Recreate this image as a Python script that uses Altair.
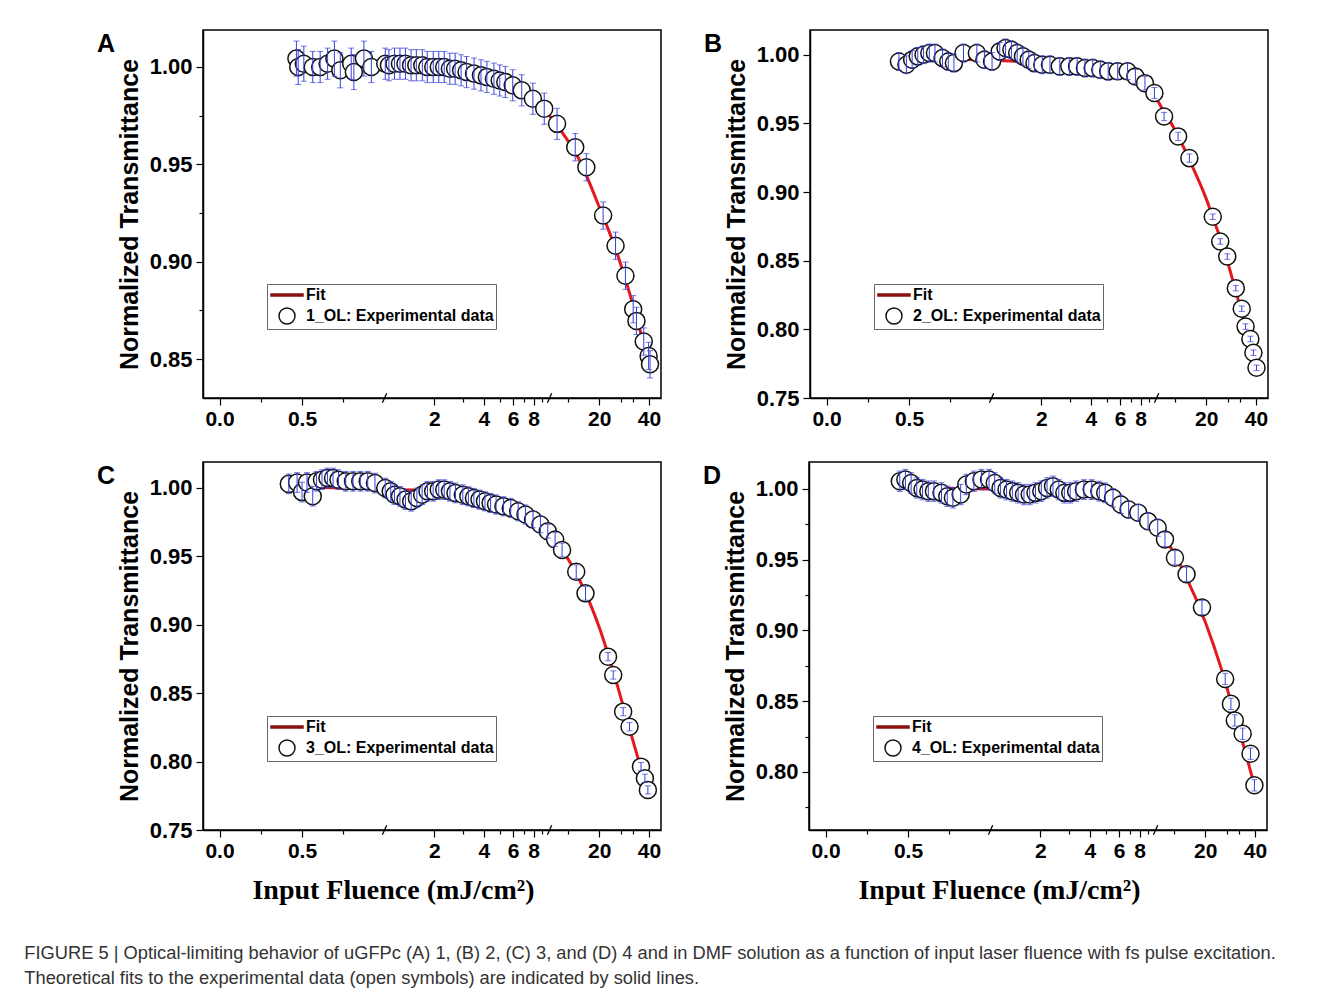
import math
import altair as alt
import pandas as pd

# ---------------- data ----------------
# Panel A (1_OL)
A_F = [0.466, 0.477, 0.511, 0.565, 0.61, 0.655, 0.696, 0.732, 0.798, 0.814,
       0.875, 0.92, 1.01, 1.063, 1.149, 1.24, 1.338, 1.448, 1.558, 1.694,
       1.815, 1.973, 2.131, 2.299, 2.488, 2.677, 2.91, 3.14, 3.485, 3.84,
       4.17, 4.6, 4.99, 5.39, 5.98, 6.78, 7.92, 9.28, 11.1, 14.3,
       16.7, 21.1, 25.1, 28.8, 32.1, 33.6, 37.2, 39.8, 40.6]
A_V = [1.0043, 1.0, 1.0017, 1.0, 1.0, 1.0017, 1.0043, 0.9983, 1.0017, 0.9974,
       1.0043, 1.0, 1.0017, 1.0009, 1.0017, 1.0017, 1.0017, 1.0009, 1.0009, 1.0009,
       1.0, 1.0, 1.0, 1.0, 0.9991, 0.9991, 0.9983, 0.9974, 0.9966, 0.9957,
       0.9949, 0.994, 0.9931, 0.9923, 0.9906, 0.988, 0.9837, 0.9786, 0.9708, 0.9588,
       0.9485, 0.9237, 0.9082, 0.8928, 0.8756, 0.8696, 0.859, 0.8516, 0.8473]
A_E = [0.009, 0.009, 0.009, 0.008, 0.008, 0.008, 0.009, 0.009, 0.008, 0.009,
       0.009, 0.008, 0.008, 0.008, 0.008, 0.008, 0.008, 0.008, 0.008, 0.008,
       0.008, 0.008, 0.008, 0.008, 0.008, 0.008, 0.008, 0.008, 0.008, 0.008,
       0.008, 0.008, 0.008, 0.008, 0.008, 0.008, 0.008, 0.008, 0.008, 0.007,
       0.007, 0.007, 0.007, 0.007, 0.007, 0.007, 0.007, 0.007, 0.007]
A_FIT_F = [0.45, 1, 2, 3, 4, 5, 6, 7, 8, 10, 12, 15, 20, 25, 30, 35, 40]
A_FIT_V = [1.0005, 1.0005, 0.9995, 0.998, 0.9955, 0.993, 0.990, 0.987, 0.983,
           0.975, 0.966, 0.953, 0.928, 0.907, 0.886, 0.866, 0.848]

# Panel B (2_OL)
B_F = [0.439, 0.484, 0.519, 0.553, 0.588, 0.623, 0.657, 0.703, 0.738, 0.772,
       0.830, 0.911, 0.957, 1.007, 1.121, 1.215, 1.319, 1.43, 1.55, 1.68,
       1.82, 2.03, 2.26, 2.59, 2.96, 3.3, 3.68, 4.1, 4.56, 5.09,
       5.81, 6.67, 7.44, 8.5, 9.7, 11.1, 13.5, 15.8, 21.9, 24.3,
       26.8, 30.2, 32.8, 34.6, 37.0, 38.6, 40.3]
B_V = [0.9951, 0.9927, 0.9964, 0.9988, 1.0, 1.0012, 1.0012, 0.9976, 0.9951, 0.9939,
       1.0012, 1.0012, 0.9964, 0.9951, 1.0024, 1.0049, 1.0036, 1.0012, 0.9988, 0.9964,
       0.9939, 0.9927, 0.9927, 0.9915, 0.9915, 0.9915, 0.9903, 0.9903, 0.9891, 0.9879,
       0.9879, 0.9879, 0.9842, 0.9793, 0.9721, 0.955, 0.9405, 0.9247, 0.882, 0.864,
       0.853, 0.830, 0.815, 0.802, 0.793, 0.783, 0.772]
B_E = [0.0065, 0.0065, 0.0065, 0.0065, 0.0065, 0.0065, 0.0065, 0.0065, 0.0065, 0.0065,
       0.0065, 0.0065, 0.0065, 0.0065, 0.0065, 0.0065, 0.0065, 0.0065, 0.0065, 0.0065,
       0.0065, 0.0065, 0.0065, 0.0065, 0.0065, 0.0065, 0.0065, 0.0065, 0.0065, 0.0065,
       0.006, 0.006, 0.005, 0.005, 0.004, 0.003, 0.003, 0.003, 0.002, 0.002,
       0.002, 0.002, 0.002, 0.002, 0.002, 0.002, 0.002]
B_FIT_F = [0.44, 1, 2, 4, 6, 8, 9, 10, 11, 12, 14, 16, 20, 22, 25, 30, 35, 40]
B_FIT_V = [0.997, 0.996, 0.994, 0.991, 0.988, 0.981, 0.976, 0.968, 0.959, 0.952,
           0.937, 0.922, 0.895, 0.881, 0.862, 0.829, 0.800, 0.774]

# Panel C (3_OL)
C_F = [0.42, 0.47, 0.50, 0.53, 0.565, 0.588, 0.621, 0.654, 0.688, 0.721,
       0.765, 0.809, 0.853, 0.898, 0.942, 1.01, 1.09, 1.149, 1.24, 1.34,
       1.45, 1.57, 1.69, 1.82, 1.97, 2.13, 2.30, 2.49, 2.69, 2.98,
       3.22, 3.48, 3.76, 4.06, 4.39, 4.74, 5.26, 5.82, 6.45, 7.14,
       7.94, 8.8, 9.75, 10.8, 11.9, 14.5, 16.5, 22.6, 24.3, 27.9,
       30.5, 35.8, 37.8, 39.4]
C_V = [1.003, 1.004, 0.997, 1.004, 0.994, 1.0049, 1.0061, 1.0073, 1.0073, 1.0061,
       1.0049, 1.0049, 1.0049, 1.0049, 1.0036, 1.0, 0.9976, 0.9951, 0.9939, 0.9915,
       0.9903, 0.9927, 0.9951, 0.9976, 0.9976, 0.9988, 0.9988, 0.9976, 0.9964, 0.9951,
       0.9939, 0.9927, 0.9915, 0.9903, 0.9891, 0.9879, 0.9866, 0.9854, 0.983, 0.9806,
       0.9769, 0.9733, 0.9684, 0.9624, 0.9547, 0.9388, 0.923, 0.8767, 0.8633, 0.8365,
       0.8255, 0.7963, 0.7878, 0.7793]
C_E = [0.0072, 0.0072, 0.0072, 0.0072, 0.0072, 0.0072, 0.0072, 0.0072, 0.0072, 0.0072,
       0.0072, 0.0072, 0.0072, 0.0072, 0.0072, 0.0072, 0.0072, 0.0072, 0.0072, 0.0072,
       0.0072, 0.0072, 0.0072, 0.0072, 0.0072, 0.0072, 0.0072, 0.0072, 0.0072, 0.0072,
       0.007, 0.007, 0.007, 0.007, 0.007, 0.007, 0.007, 0.007, 0.007, 0.007,
       0.006, 0.006, 0.005, 0.005, 0.005, 0.005, 0.005, 0.003, 0.003, 0.003,
       0.003, 0.003, 0.003, 0.003]
C_FIT_F = [0.42, 1, 2, 4, 6, 8, 10, 12, 15, 20, 25, 30, 35, 40]
C_FIT_V = [1.001, 0.999, 0.998, 0.990, 0.983, 0.975, 0.965, 0.954, 0.934,
           0.898, 0.861, 0.827, 0.799, 0.776]

# Panel D (4_OL)
D_F = [0.45, 0.484, 0.519, 0.553, 0.588, 0.623, 0.657, 0.703, 0.738, 0.772,
       0.819, 0.853, 0.899, 0.945, 0.991, 1.06, 1.15, 1.25, 1.355, 1.47,
       1.594, 1.727, 1.872, 2.03, 2.2, 2.39, 2.59, 2.8, 3.04, 3.3,
       3.68, 4.1, 4.56, 4.95, 5.52, 6.16, 6.86, 7.85, 9.0, 10.3,
       11.4, 13.1, 15.4, 19.1, 26.4, 28.6, 30.2, 33.7, 37.6, 39.7]
D_V = [1.0054, 1.0066, 1.0042, 1.0007, 0.9995, 0.9984, 0.9984, 0.9972, 0.9948, 0.9937,
       0.996, 1.0031, 1.0054, 1.0066, 1.0066, 1.0042, 1.0007, 0.9995, 0.9984, 0.9972,
       0.996, 0.996, 0.9972, 0.9984, 1.0007, 1.0019, 0.9995, 0.9972, 0.9972, 0.9984,
       0.9995, 0.9995, 0.9984, 0.9972, 0.9937, 0.989, 0.9854, 0.9831, 0.9772, 0.9725,
       0.9643, 0.9514, 0.9397, 0.9162, 0.8657, 0.8481, 0.8364, 0.827, 0.8129, 0.7906]
D_E = [0.0072, 0.0072, 0.0072, 0.0072, 0.0072, 0.0072, 0.0072, 0.0072, 0.0072, 0.0072,
       0.0072, 0.0072, 0.0072, 0.0072, 0.0072, 0.0072, 0.0072, 0.0072, 0.0072, 0.0072,
       0.0072, 0.0072, 0.0072, 0.0072, 0.0072, 0.0072, 0.0072, 0.0072, 0.0072, 0.0072,
       0.007, 0.007, 0.007, 0.007, 0.0065, 0.0065, 0.006, 0.006, 0.006, 0.006,
       0.005, 0.005, 0.005, 0.005, 0.004, 0.004, 0.004, 0.004, 0.004, 0.004]
D_FIT_F = [0.45, 1, 2, 4, 6, 8, 10, 12, 15, 20, 25, 30, 35, 40]
D_FIT_V = [1.001, 1.0, 0.999, 0.996, 0.990, 0.982, 0.973, 0.961, 0.940,
           0.906, 0.873, 0.841, 0.814, 0.789]

LETTERS = ["A", "B", "C", "D"]
SERIES = ["1_OL: Experimental data", "2_OL: Experimental data",
          "3_OL: Experimental data", "4_OL: Experimental data"]
Y_DOMAINS = [[0.83, 1.019], [0.75, 1.018], [0.75, 1.019], [0.759, 1.019]]
Y_TICKS = [[0.85, 0.875, 0.90, 0.925, 0.95, 0.975, 1.00],
           [0.75, 0.775, 0.80, 0.825, 0.85, 0.875, 0.90, 0.925, 0.95, 0.975, 1.00],
           [0.75, 0.775, 0.80, 0.825, 0.85, 0.875, 0.90, 0.925, 0.95, 0.975, 1.00],
           [0.775, 0.80, 0.825, 0.85, 0.875, 0.90, 0.925, 0.95, 0.975, 1.00]]

X_MAJOR = [0.0, 0.5, 2, 4, 6, 8, 20, 40]
X_MINOR = [0.25, 0.75, 3, 5, 7, 9, 13, 27, 32]
X_BREAKS = [1, 10]
X_DOMAIN = [-0.1, 2.675]

FIT_LABEL = "Fit"
X_TITLE = "Input Fluence (mJ/cm²)"
Y_TITLE = "Normalized Transmittance"
CAPTION = [
    "FIGURE 5 | Optical-limiting behavior of uGFPc (A) 1, (B) 2, (C) 3, and (D) 4 and in DMF solution as a function of input laser fluence with fs pulse excitation.",
    "Theoretical fits to the experimental data (open symbols) are indicated by solid lines.",
]

FIT_RED = "#e3191f"
LEG_RED = "#8a1010"
ERR_BLUE = "#3440d8"
SANS = "Liberation Sans"
SERIF = "Liberation Serif"

# broken axis: linear 0..1, logarithmic above 1 (one decade per unit)
POS = "datum.f <= 1 ? datum.f : 1 + log(datum.f) / LN10"


def to_pos(f):
    return f if f <= 1 else 1 + math.log10(f)


x_major_pos = [to_pos(v) for v in X_MAJOR]
x_values = sorted(set(x_major_pos + [to_pos(v) for v in X_MINOR]))
X_IS_MAJOR = "(" + " || ".join(f"abs(datum.value - {p!r}) < 0.000001" for p in x_major_pos) + ")"
Y_IS_MAJOR = "(abs(datum.value * 20 - round(datum.value * 20)) < 0.000001)"

BAR_PATH = "M-2,-0.13L2,-0.13L2,0.13L-2,0.13Z"
SLASH_PATH = "M-0.45,1L0.45,-1"


def x_axis(with_title):
    kw = dict(
        values=x_values,
        labelExpr=(f"{X_IS_MAJOR} ? (datum.value <= 1 ? format(datum.value, '.1f') : "
                   "format(pow(10, datum.value - 1), '.0f')) : ''"),
        tickSize={"condition": {"test": X_IS_MAJOR, "value": 7}, "value": 4},
        labelFontSize=21, labelFont=SANS, labelFontWeight="bold",
        labelPadding=3, labelOverlap=False, labelFlush=False, grid=False,
    )
    if with_title:
        kw.update(title=X_TITLE, titleFont=SERIF, titleFontSize=28,
                  titleFontWeight="bold", titlePadding=15, titleX=190)
    else:
        kw.update(title=None)
    return alt.Axis(**kw)


def y_axis(ticks):
    return alt.Axis(
        values=ticks,
        labelExpr=f"{Y_IS_MAJOR} ? format(datum.value, '.2f') : ''",
        tickSize={"condition": {"test": Y_IS_MAJOR, "value": 7}, "value": 4},
        labelFontSize=22, labelFont=SANS, labelFontWeight="bold",
        labelPadding=4, labelOverlap=False, labelFlush=False, grid=False,
        title=Y_TITLE, titleFont=SANS, titleFontSize=25, titleFontWeight="bold",
        titlePadding=7,
    )


def panel(i, f, v, e, fit_f, fit_v, x_title):
    label = SERIES[i]
    ydom = Y_DOMAINS[i]
    pts = pd.DataFrame({"f": f, "v": v, "e": e, "label": label})
    fit = pd.DataFrame({"f": fit_f, "v": fit_v})
    brk = pd.DataFrame({"f": X_BREAKS})

    xs = alt.Scale(domain=X_DOMAIN, nice=False, zero=False)
    ys = alt.Scale(domain=ydom, nice=False, zero=False)
    X = alt.X("pos:Q", scale=xs, axis=x_axis(x_title))
    Y = alt.Y("v:Q", scale=ys, axis=y_axis(Y_TICKS[i]))

    line = alt.Chart(fit).transform_calculate(pos=POS).mark_line(
        color=FIT_RED, strokeWidth=3, interpolate="monotone"
    ).encode(x=X, y=Y)

    dom = [FIT_LABEL, label]
    leg = alt.Legend(
        title=None, orient="none", legendX=64, legendY=254,
        labelFont=SANS, labelFontSize=16, labelFontWeight="bold", labelColor="black",
        labelLimit=400, symbolSize=256, symbolStrokeWidth=1.5, labelOffset=10,
        rowPadding=2, padding=2, symbolOffset=9, strokeColor="#666", fillColor="white",
    )
    points = alt.Chart(pts).transform_calculate(pos=POS).mark_point(
        size=290, strokeWidth=1.5, opacity=1
    ).encode(
        x=X, y=Y,
        stroke=alt.Stroke("label:N", scale=alt.Scale(domain=dom, range=[LEG_RED, "#111111"]), legend=leg),
        fill=alt.Fill("label:N", scale=alt.Scale(domain=dom, range=[LEG_RED, "white"]), legend=leg),
        shape=alt.Shape("label:N", scale=alt.Scale(domain=dom, range=[BAR_PATH, "circle"]), legend=leg),
    )

    err = alt.Chart(pts).transform_calculate(
        pos=POS, lo="datum.v - datum.e", hi="datum.v + datum.e"
    ).mark_errorbar(ticks={"size": 6}, color=ERR_BLUE, thickness=1).encode(
        x=X,
        y=alt.Y("lo:Q", scale=ys, axis=y_axis(Y_TICKS[i])),
        y2="hi:Q",
    )

    breaks = alt.Chart(brk).transform_calculate(pos=POS).mark_point(
        shape=SLASH_PATH, size=90, filled=False, stroke="black", strokeWidth=1.3, opacity=1
    ).encode(x=X, y=alt.datum(ydom[0]))

    return alt.layer(line, points, err, breaks).properties(
        width=458, height=368,
        title=alt.TitleParams(
            LETTERS[i], orient="left", anchor="end", frame="group", angle=0,
            align="right", baseline="top",
            font=SANS, fontSize=25, fontWeight="bold", color="black",
            offset=-16, dy=2,
        ),
    )


pA = panel(0, A_F, A_V, A_E, A_FIT_F, A_FIT_V, False)
pB = panel(1, B_F, B_V, B_E, B_FIT_F, B_FIT_V, False)
pC = panel(2, C_F, C_V, C_E, C_FIT_F, C_FIT_V, True)
pD = panel(3, D_F, D_V, D_E, D_FIT_F, D_FIT_V, True)

IND = dict(stroke="independent", fill="independent", shape="independent")

row1 = alt.hconcat(pA, pB, spacing=40).resolve_scale(x="independent", y="independent", **IND).resolve_legend(**IND)
row2 = alt.hconcat(pC, pD, spacing=40).resolve_scale(x="independent", y="independent", **IND).resolve_legend(**IND)

chart = alt.vconcat(row1, row2, spacing=31).resolve_scale(
    x="independent", y="independent", **IND
).resolve_legend(**IND).properties(
    padding={"left": 16, "top": 21, "right": 10, "bottom": 5},
    title=alt.TitleParams(
        CAPTION, orient="bottom", anchor="start", frame="bounds",
        font=SANS, fontSize=18.3, fontWeight="normal", color="#333333",
        lineHeight=25, offset=40, dx=-72,
    ),
).configure(background="white").configure_view(
    stroke="black", strokeWidth=1.5
).configure_axis(
    domainColor="black", domainWidth=1.5, tickColor="black", tickWidth=1.2,
    labelColor="black", titleColor="black",
)

chart.save("out.html", embed_options={"renderer": "svg", "actions": False})
